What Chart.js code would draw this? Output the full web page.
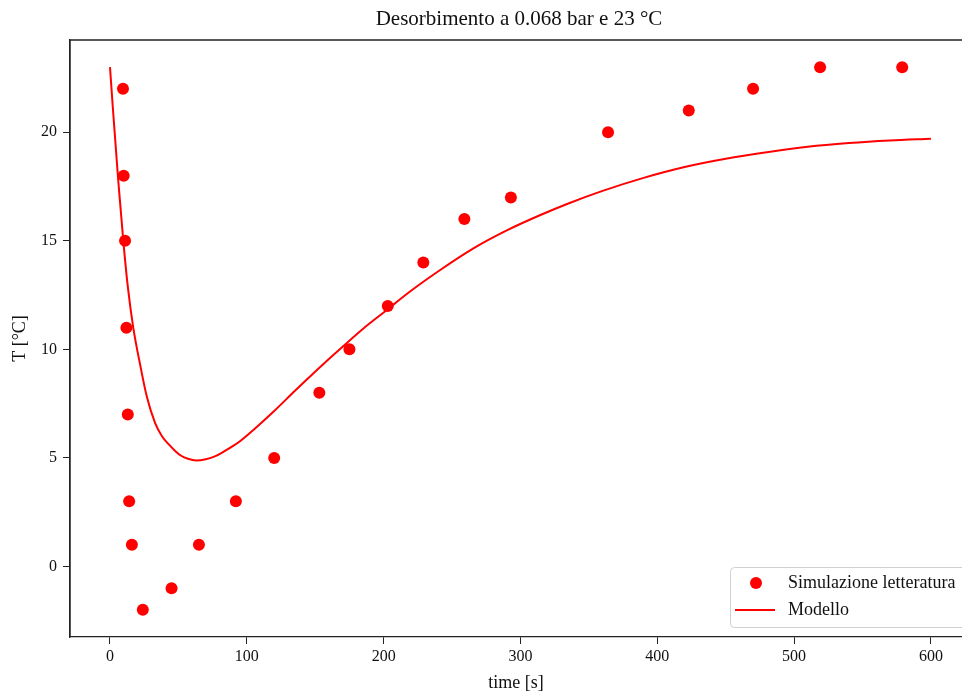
<!DOCTYPE html>
<html>
<head>
<meta charset="utf-8">
<script src="https://cdn.jsdelivr.net/npm/chart.js@4.4.1/dist/chart.umd.min.js"></script>
<style>
  html, body { margin: 0; padding: 0; background: #fff; overflow: hidden; }
  #wrap { width: 962px; height: 695px; overflow: hidden; }
</style>
</head>
<body>
<div id="wrap"><canvas id="c" width="962" height="695"></canvas></div>
<script>
const titleText = "Desorbimento a 0.068 bar e 23 °C";
const xLabel = "time [s]";
const yLabel = "T [°C]";
const simLabel = "Simulazione letteratura";
const modelLabel = "Modello";

const simTime = [9.5, 10, 11, 12, 13, 14, 16, 24, 45, 65, 92, 120, 153, 175, 203, 229, 259, 293, 364, 423, 470, 519, 579];
const simTemp = [22, 18, 15, 11, 7, 3, 1, -2, -1, 1, 3, 5, 8, 10, 12, 14, 16, 17, 20, 21, 22, 23, 23];

const modelTime = [0, 2, 4, 6, 8, 10, 13, 17, 22, 27, 33, 38, 43, 48, 52, 57, 63, 70, 77, 84, 90, 95, 105, 120, 135, 145, 155, 170, 185, 200, 220, 240, 265, 290, 315, 335, 360, 390, 420, 450, 480, 510, 540, 570, 600];
const modelTemp = [23, 21.2, 19.5, 17.8, 16.3, 14.8, 12.9, 11.0, 9.3, 7.8, 6.6, 6.0, 5.62, 5.3, 5.1, 4.96, 4.88, 4.94, 5.08, 5.32, 5.55, 5.77, 6.3, 7.16, 8.08, 8.68, 9.27, 10.12, 10.95, 11.7, 12.7, 13.6, 14.63, 15.48, 16.2, 16.72, 17.3, 17.9, 18.4, 18.78, 19.08, 19.33, 19.5, 19.62, 19.7];

const xTickValues = [0, 100, 200, 300, 400, 500, 600];
const yTickValues = [0, 5, 10, 15, 20];

const FONT = "'Liberation Serif', 'Times New Roman', serif";

const framePlugin = {
  id: 'frame',
  afterDraw(chart) {
    const ctx = chart.ctx, a = chart.chartArea;
    ctx.save();
    // title, centred over the (partly cropped) axes
    ctx.fillStyle = '#111';
    ctx.font = "21px " + FONT;
    ctx.textAlign = 'center';
    ctx.textBaseline = 'middle';
    ctx.fillText(titleText, (a.left + a.right) / 2 + 3, 19);
    // frame: top and left edges (right edge lies beyond the picture)
    ctx.strokeStyle = '#222';
    ctx.lineWidth = 1.3;
    ctx.beginPath();
    ctx.moveTo(a.right + 2, a.top);
    ctx.lineTo(a.left, a.top);
    ctx.lineTo(a.left, a.bottom);
    ctx.stroke();
    // legend
    const ds = chart.data.datasets;
    const bx = 730.5, by = 567.5, bw = 260, bh = 60, r = 4;
    ctx.fillStyle = 'rgba(255,255,255,0.85)';
    ctx.strokeStyle = '#d0d0d0';
    ctx.lineWidth = 1;
    ctx.beginPath();
    ctx.moveTo(bx + r, by);
    ctx.lineTo(bx + bw - r, by);
    ctx.arcTo(bx + bw, by, bx + bw, by + r, r);
    ctx.lineTo(bx + bw, by + bh - r);
    ctx.arcTo(bx + bw, by + bh, bx + bw - r, by + bh, r);
    ctx.lineTo(bx + r, by + bh);
    ctx.arcTo(bx, by + bh, bx, by + bh - r, r);
    ctx.lineTo(bx, by + r);
    ctx.arcTo(bx, by, bx + r, by, r);
    ctx.closePath();
    ctx.fill();
    ctx.stroke();
    ctx.fillStyle = '#ff0000';
    ctx.beginPath();
    ctx.arc(756, 583, 6, 0, Math.PI * 2);
    ctx.fill();
    ctx.strokeStyle = '#ff0000';
    ctx.lineWidth = 2;
    ctx.beginPath();
    ctx.moveTo(735, 610);
    ctx.lineTo(775, 610);
    ctx.stroke();
    ctx.fillStyle = '#111';
    ctx.font = "18px " + FONT;
    ctx.textBaseline = 'middle';
    ctx.textAlign = 'left';
    ctx.fillText(ds[0].label, 788, 583);
    ctx.fillText(ds[1].label, 788, 610);
    ctx.restore();
  }
};

new Chart(document.getElementById('c'), {
  type: 'scatter',
  data: {
    datasets: [
      {
        label: simLabel,
        data: simTime.map((t, i) => ({ x: t, y: simTemp[i] })),
        backgroundColor: '#ff0000',
        borderColor: '#ff0000',
        pointRadius: 6,
        pointHoverRadius: 6,
        borderWidth: 0,
        order: 1
      },
      {
        label: modelLabel,
        data: modelTime.map((t, i) => ({ x: t, y: modelTemp[i] })),
        showLine: true,
        borderColor: '#ff0000',
        backgroundColor: '#ff0000',
        borderWidth: 2,
        pointRadius: 0,
        pointHoverRadius: 0,
        cubicInterpolationMode: 'monotone',
        order: 2
      }
    ]
  },
  options: {
    responsive: false,
    animation: false,
    events: [],
    layout: { autoPadding: false, padding: { left: 0, right: 0, top: 40, bottom: 0 } },
    plugins: {
      legend: { display: false },
      tooltip: { enabled: false },
      title: { display: false }
    },
    scales: {
      x: {
        type: 'linear',
        min: -29.23,
        max: 622.7,
        afterFit(scale) { scale.height = 58; },
        afterBuildTicks(scale) { scale.ticks = xTickValues.map(v => ({ value: v })); },
        ticks: {
          includeBounds: false,
          color: '#111',
          font: { family: FONT, size: 16 },
          padding: 3,
          maxRotation: 0
        },
        grid: { drawOnChartArea: false, tickLength: 7, tickColor: '#222', tickWidth: 1 },
        border: { display: true, color: '#222', width: 1.3 },
        title: {
          display: true,
          text: xLabel,
          color: '#111',
          font: { family: FONT, size: 18 },
          padding: { top: 0, bottom: 1 }
        }
      },
      y: {
        type: 'linear',
        min: -3.25,
        max: 24.25,
        afterFit(scale) { scale.width = 70; },
        afterBuildTicks(scale) { scale.ticks = yTickValues.map(v => ({ value: v })); },
        ticks: {
          includeBounds: false,
          color: '#111',
          font: { family: FONT, size: 16 },
          padding: 6
        },
        grid: { drawOnChartArea: false, tickLength: 7, tickColor: '#222', tickWidth: 1 },
        border: { display: true, color: '#222', width: 1.3 },
        title: {
          display: true,
          text: yLabel,
          color: '#111',
          font: { family: FONT, size: 18 },
          padding: { top: 9, bottom: 0 }
        }
      }
    }
  },
  plugins: [framePlugin]
});
</script>
</body>
</html>
